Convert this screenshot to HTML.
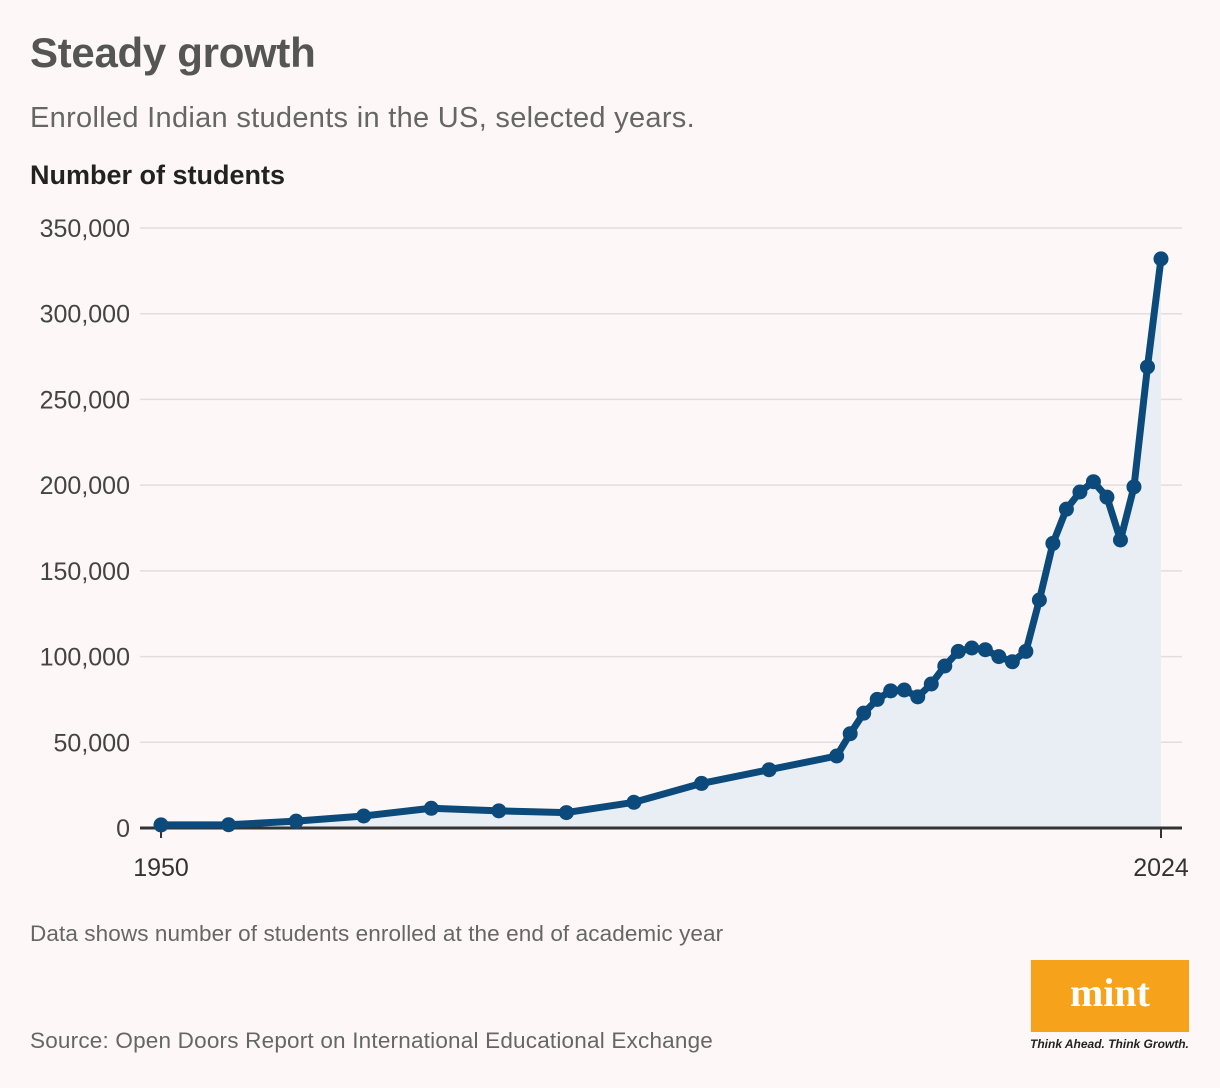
<!DOCTYPE html>
<html><head><meta charset="utf-8">
<style>
body{margin:0;width:1220px;height:1088px;background:#fdf8f7;font-family:"Liberation Sans",sans-serif;overflow:hidden;position:relative}
.t{position:absolute;white-space:nowrap}
</style></head><body>
<div class="t" style="left:30px;top:29px;font-size:42px;font-weight:bold;color:#555;letter-spacing:-0.3px">Steady growth</div>
<div class="t" style="left:30px;top:102px;font-size:29px;color:#666;letter-spacing:0.3px">Enrolled Indian students in the US, selected years.</div>
<div class="t" style="left:30px;top:160px;font-size:27px;font-weight:bold;color:#222">Number of students</div>
<svg id="chart" width="1220" height="900" style="position:absolute;left:0;top:0"></svg>
<div class="t" style="left:30px;top:921px;font-size:22.5px;color:#666;letter-spacing:0.1px">Data shows number of students enrolled at the end of academic year</div>
<div class="t" style="left:30px;top:1028px;font-size:22.5px;color:#666;letter-spacing:0.2px">Source: Open Doors Report on International Educational Exchange</div>
<div style="position:absolute;left:1031px;top:960px;width:158px;height:72px;background:#f7a21b;color:#fff;font-family:'Liberation Serif',serif;font-weight:bold;font-size:40px;text-align:center;line-height:66px">mint</div>
<div class="t" style="left:1030px;top:1037px;font-size:12px;font-style:italic;font-weight:bold;color:#222">Think Ahead. Think Growth.</div>
<script>
const years=[1950,1955,1960,1965,1970,1975,1980,1985,1990,1995,2000,2001,2002,2003,2004,2005,2006,2007,2008,2009,2010,2011,2012,2013,2014,2015,2016,2017,2018,2019,2020,2021,2022,2023,2024];
const students=[1800,1900,4000,7000,11500,10000,9000,15000,26000,34000,42000,55000,67000,75000,80000,80500,76500,84000,94500,103000,105000,104000,100000,97000,103000,133000,166000,186000,196000,202000,193000,168000,199000,269000,332000];
const yTicks=[0,50000,100000,150000,200000,250000,300000,350000];
const xTickLabels=[1950,2024];
const svg=document.getElementById('chart');const NS='http://www.w3.org/2000/svg';
const x=v=>161+(v-1950)*(1000/74);
const y=v=>828-v*(600/350000);
function mk(t,a){const e=document.createElementNS(NS,t);for(const k in a)e.setAttribute(k,a[k]);svg.appendChild(e);return e;}
yTicks.forEach(v=>{
 if(v>0){const g=mk('line',{x1:140,x2:1182,y1:y(v),y2:y(v),stroke:'#e2dedd','stroke-width':1.5});
 
 }
 const t=mk('text',{x:130,y:y(v)+9,'text-anchor':'end','font-size':25,fill:'#444','font-family':'Liberation Sans, sans-serif'});
 t.textContent=v.toLocaleString('en-US');
 
 
});
let d='M'+x(years[0])+','+y(0);years.forEach((yr,i)=>d+='L'+x(yr)+','+y(students[i]));d+='L'+x(years[years.length-1])+','+y(0)+'Z';
const area=mk('path',{d:d,fill:'#e9eef4'});


const ax=mk('line',{x1:140,x2:1182,y1:828,y2:828,stroke:'#333','stroke-width':3});


xTickLabels.forEach(v=>{
 const tk=mk('line',{x1:x(v),x2:x(v),y1:828,y2:838,stroke:'#333','stroke-width':2});
 
 
 const t=mk('text',{x:x(v),y:876,'text-anchor':'middle','font-size':25,fill:'#333','font-family':'Liberation Sans, sans-serif'});
 t.textContent=v;
 
 
});
const pts=years.map((yr,i)=>x(yr)+','+y(students[i])).join(' ');
const ln=mk('polyline',{points:pts,fill:'none',stroke:'#0b4a7a','stroke-width':7,'stroke-linejoin':'round'});


years.forEach((yr,i)=>{
 const c=mk('circle',{cx:x(yr),cy:y(students[i]),r:7.5,fill:'#0b4a7a'});
 
 
});
</script>
</body></html>
